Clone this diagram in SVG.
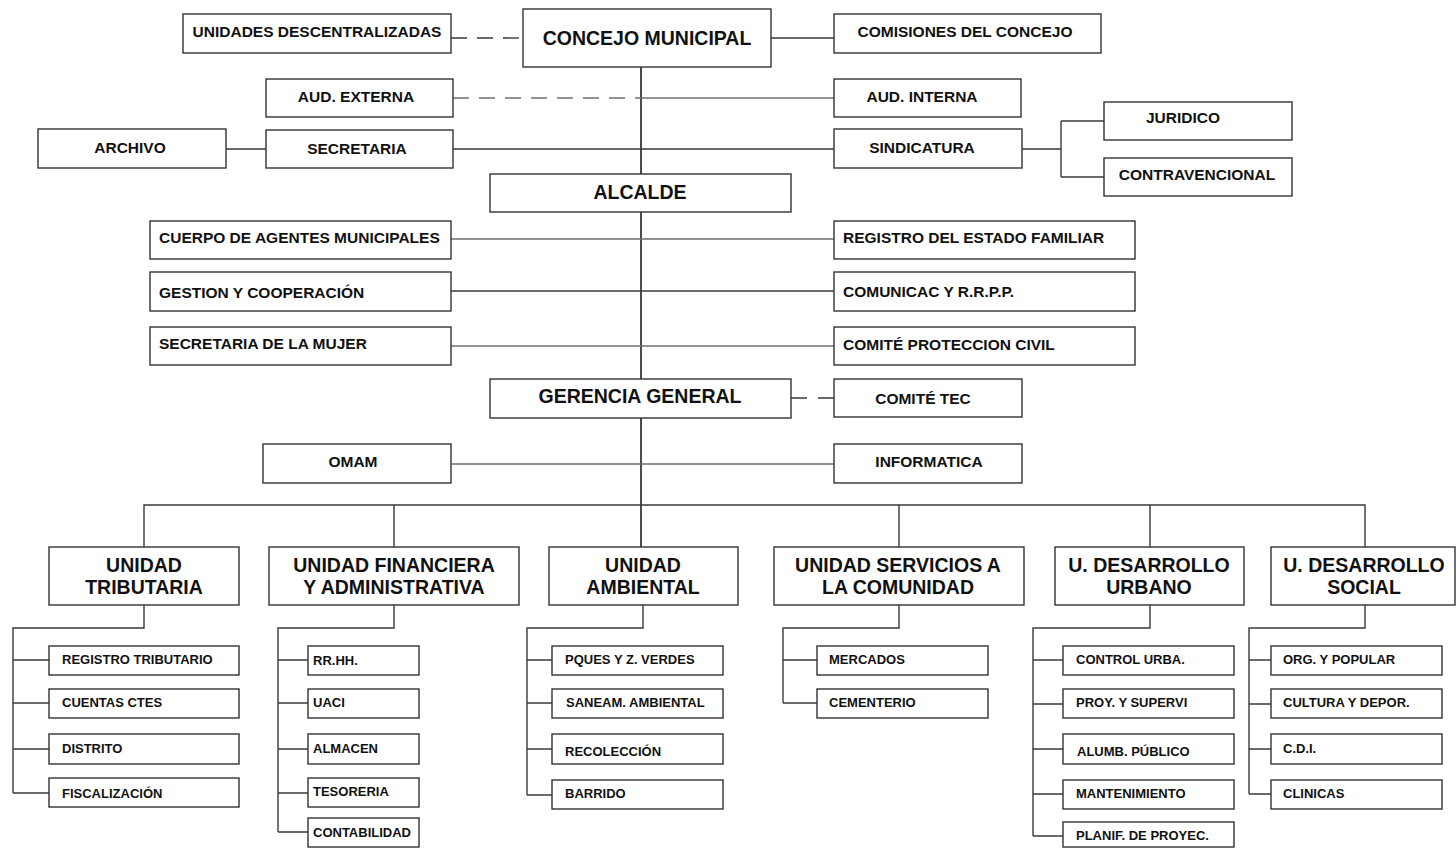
<svg xmlns="http://www.w3.org/2000/svg" width="1456" height="849" viewBox="0 0 1456 849">
  <style>
    .box { fill: #ffffff; stroke: #333333; stroke-width: 1.4; }
    .t { font-family: "Liberation Sans", Arial, sans-serif; font-weight: bold; fill: #111111; }
    .big { font-size: 19.5px; }
    .mid { font-size: 15.5px; }
    .sm { font-size: 13px; }
    .c { text-anchor: middle; }
    .ln { fill: none; stroke: #3a3a3a; stroke-width: 1.4; }
    .spine { fill: none; stroke: #111111; stroke-width: 1.5; }
    .grey { fill: none; stroke: #6e6e6e; stroke-width: 1.6; }
    .dash { stroke-dasharray: 16 10; }
  </style>
  <rect width="1456" height="849" fill="#ffffff"/>

  <!-- connectors -->
  <g id="connectors">
    <!-- main spine -->
    <path class="spine" d="M641 67 V174 M641 212 V379 M641 418 V547"/>
    <!-- council level -->
    <path class="ln dash" d="M451 38 H523"/>
    <path class="ln" d="M771 38 H834"/>
    <path class="grey dash" d="M453 98 H641"/>
    <path class="grey" d="M641 98 H834"/>
    <path class="ln" d="M226 149 H266 M453 149 H834"/>
    <path class="ln" d="M1022 149 H1061 M1061 121 V177 M1061 121 H1104 M1061 177 H1104"/>
    <!-- mayor staff -->
    <path class="grey" d="M451 239 H834"/>
    <path class="ln" d="M451 291 H834"/>
    <path class="grey" d="M451 346 H834"/>
    <!-- management staff -->
    <path class="ln" d="M791 398 H834" stroke-dasharray="16 11"/>
    <path class="grey" d="M451 464 H834"/>
    <!-- units bus -->
    <path class="ln" d="M144 547 V505 H1365 V547 M394 505 V547 M899 505 V547 M1150 505 V547"/>
    <!-- unit sub-brackets -->
    <path class="ln" d="M144 605 V628 H13 V793 M13 660 H49 M13 703 H49 M13 749 H49 M13 793 H49"/>
    <path class="ln" d="M394 605 V628 H278 V832 M278 660 H308 M278 703 H308 M278 749 H308 M278 793 H308 M278 832 H308"/>
    <path class="ln" d="M643 605 V628 H527 V795 M527 660 H552 M527 703 H552 M527 749 H552 M527 795 H552"/>
    <path class="ln" d="M899 605 V628 H783 V703 M783 660 H817 M783 703 H817"/>
    <path class="ln" d="M1150 605 V628 H1033 V836 M1033 660 H1063 M1033 704 H1063 M1033 749 H1063 M1033 794 H1063 M1033 836 H1063"/>
    <path class="ln" d="M1365 605 V628 H1249 V794 M1249 660 H1271 M1249 704 H1271 M1249 749 H1271 M1249 794 H1271"/>
  </g>

  <!-- top level -->
  <g id="unidades-descentralizadas"><rect class="box" x="183" y="14" width="268" height="39"/><text class="t mid c" x="317" y="37">UNIDADES DESCENTRALIZADAS</text></g>
  <g id="concejo-municipal"><rect class="box" x="523" y="9" width="248" height="58"/><text class="t big c" x="647" y="45">CONCEJO MUNICIPAL</text></g>
  <g id="comisiones"><rect class="box" x="834" y="14" width="267" height="39"/><text class="t mid c" x="965" y="37">COMISIONES DEL CONCEJO</text></g>
  <g id="aud-externa"><rect class="box" x="266" y="79" width="187" height="38"/><text class="t mid c" x="356" y="102">AUD. EXTERNA</text></g>
  <g id="aud-interna"><rect class="box" x="834" y="79" width="187" height="38"/><text class="t mid c" x="922" y="102">AUD. INTERNA</text></g>
  <g id="archivo"><rect class="box" x="38" y="129" width="188" height="39"/><text class="t mid c" x="130" y="153">ARCHIVO</text></g>
  <g id="secretaria"><rect class="box" x="266" y="130" width="187" height="38"/><text class="t mid c" x="357" y="154">SECRETARIA</text></g>
  <g id="sindicatura"><rect class="box" x="834" y="129" width="188" height="39"/><text class="t mid c" x="922" y="153">SINDICATURA</text></g>
  <g id="juridico"><rect class="box" x="1104" y="102" width="188" height="38"/><text class="t mid c" x="1183" y="123">JURIDICO</text></g>
  <g id="contravencional"><rect class="box" x="1104" y="158" width="188" height="38"/><text class="t mid c" x="1197" y="180">CONTRAVENCIONAL</text></g>

  <!-- mayor -->
  <g id="alcalde"><rect class="box" x="490" y="174" width="301" height="38"/><text class="t big c" x="640" y="199">ALCALDE</text></g>
  <g id="cuerpo-agentes"><rect class="box" x="150" y="221" width="301" height="38"/><text class="t mid" x="159" y="243">CUERPO DE AGENTES MUNICIPALES</text></g>
  <g id="gestion"><rect class="box" x="150" y="272" width="301" height="39"/><text class="t mid" x="159" y="298">GESTION Y COOPERACIÓN</text></g>
  <g id="secretaria-mujer"><rect class="box" x="150" y="327" width="301" height="38"/><text class="t mid" x="159" y="349">SECRETARIA DE LA MUJER</text></g>
  <g id="registro-familiar"><rect class="box" x="834" y="221" width="301" height="38"/><text class="t mid" x="843" y="243">REGISTRO DEL ESTADO FAMILIAR</text></g>
  <g id="comunicaciones"><rect class="box" x="834" y="272" width="301" height="39"/><text class="t mid" x="843" y="297">COMUNICAC Y R.R.P.P.</text></g>
  <g id="proteccion-civil"><rect class="box" x="834" y="327" width="301" height="38"/><text class="t mid" x="843" y="350">COMITÉ PROTECCION CIVIL</text></g>

  <!-- management -->
  <g id="gerencia-general"><rect class="box" x="490" y="379" width="301" height="39"/><text class="t big c" x="640" y="403">GERENCIA GENERAL</text></g>
  <g id="comite-tec"><rect class="box" x="834" y="379" width="188" height="38"/><text class="t mid c" x="923" y="404">COMITÉ TEC</text></g>
  <g id="omam"><rect class="box" x="263" y="444" width="188" height="39"/><text class="t mid c" x="353" y="467">OMAM</text></g>
  <g id="informatica"><rect class="box" x="834" y="444" width="188" height="39"/><text class="t mid c" x="929" y="467">INFORMATICA</text></g>

  <!-- units -->
  <g id="unidad-tributaria"><rect class="box" x="49" y="547" width="190" height="58"/><text class="t big c" x="144" y="572">UNIDAD</text><text class="t big c" x="144" y="594">TRIBUTARIA</text></g>
  <g id="unidad-financiera"><rect class="box" x="269" y="547" width="250" height="58"/><text class="t big c" x="394" y="572">UNIDAD FINANCIERA</text><text class="t big c" x="394" y="594">Y ADMINISTRATIVA</text></g>
  <g id="unidad-ambiental"><rect class="box" x="549" y="547" width="189" height="58"/><text class="t big c" x="643" y="572">UNIDAD</text><text class="t big c" x="643" y="594">AMBIENTAL</text></g>
  <g id="unidad-servicios"><rect class="box" x="774" y="547" width="250" height="58"/><text class="t big c" x="898" y="572">UNIDAD SERVICIOS A</text><text class="t big c" x="898" y="594">LA COMUNIDAD</text></g>
  <g id="desarrollo-urbano"><rect class="box" x="1055" y="547" width="189" height="58"/><text class="t big c" x="1149" y="572">U. DESARROLLO</text><text class="t big c" x="1149" y="594">URBANO</text></g>
  <g id="desarrollo-social"><rect class="box" x="1271" y="547" width="184" height="58"/><text class="t big c" x="1364" y="572">U. DESARROLLO</text><text class="t big c" x="1364" y="594">SOCIAL</text></g>

  <!-- tributaria sections -->
  <g id="registro-tributario"><rect class="box" x="49" y="646" width="190" height="29"/><text class="t sm" x="62" y="664">REGISTRO TRIBUTARIO</text></g>
  <g id="cuentas-ctes"><rect class="box" x="49" y="689" width="190" height="29"/><text class="t sm" x="62" y="707">CUENTAS CTES</text></g>
  <g id="distrito"><rect class="box" x="49" y="734" width="190" height="30"/><text class="t sm" x="62" y="753">DISTRITO</text></g>
  <g id="fiscalizacion"><rect class="box" x="49" y="778" width="190" height="29"/><text class="t sm" x="62" y="798">FISCALIZACIÓN</text></g>

  <!-- financiera sections -->
  <g id="rrhh"><rect class="box" x="308" y="646" width="111" height="29"/><text class="t sm" x="313" y="665">RR.HH.</text></g>
  <g id="uaci"><rect class="box" x="308" y="689" width="111" height="29"/><text class="t sm" x="313" y="707">UACI</text></g>
  <g id="almacen"><rect class="box" x="308" y="734" width="111" height="30"/><text class="t sm" x="313" y="753">ALMACEN</text></g>
  <g id="tesoreria"><rect class="box" x="308" y="778" width="111" height="29"/><text class="t sm" x="313" y="796">TESORERIA</text></g>
  <g id="contabilidad"><rect class="box" x="308" y="818" width="111" height="29"/><text class="t sm" x="313" y="837">CONTABILIDAD</text></g>

  <!-- ambiental sections -->
  <g id="parques"><rect class="box" x="552" y="646" width="171" height="29"/><text class="t sm" x="565" y="664">PQUES Y Z. VERDES</text></g>
  <g id="saneamiento"><rect class="box" x="552" y="689" width="171" height="29"/><text class="t sm" x="566" y="707">SANEAM. AMBIENTAL</text></g>
  <g id="recoleccion"><rect class="box" x="552" y="734" width="171" height="30"/><text class="t sm" x="565" y="756">RECOLECCIÓN</text></g>
  <g id="barrido"><rect class="box" x="552" y="780" width="171" height="29"/><text class="t sm" x="565" y="798">BARRIDO</text></g>

  <!-- servicios sections -->
  <g id="mercados"><rect class="box" x="817" y="646" width="171" height="29"/><text class="t sm" x="829" y="664">MERCADOS</text></g>
  <g id="cementerio"><rect class="box" x="817" y="689" width="171" height="29"/><text class="t sm" x="829" y="707">CEMENTERIO</text></g>

  <!-- urbano sections -->
  <g id="control-urbano"><rect class="box" x="1063" y="646" width="171" height="29"/><text class="t sm" x="1076" y="664">CONTROL URBA.</text></g>
  <g id="proyectos"><rect class="box" x="1063" y="689" width="171" height="29"/><text class="t sm" x="1076" y="707">PROY. Y SUPERVI</text></g>
  <g id="alumbrado"><rect class="box" x="1063" y="734" width="171" height="30"/><text class="t sm" x="1077" y="756">ALUMB. PÚBLICO</text></g>
  <g id="mantenimiento"><rect class="box" x="1063" y="780" width="171" height="29"/><text class="t sm" x="1076" y="798">MANTENIMIENTO</text></g>
  <g id="planificacion"><rect class="box" x="1063" y="822" width="171" height="25"/><text class="t sm" x="1076" y="840">PLANIF. DE PROYEC.</text></g>

  <!-- social sections -->
  <g id="organizacion"><rect class="box" x="1271" y="646" width="171" height="29"/><text class="t sm" x="1283" y="664">ORG. Y POPULAR</text></g>
  <g id="cultura"><rect class="box" x="1271" y="689" width="171" height="29"/><text class="t sm" x="1283" y="707">CULTURA Y DEPOR.</text></g>
  <g id="cdi"><rect class="box" x="1271" y="734" width="171" height="30"/><text class="t sm" x="1283" y="753">C.D.I.</text></g>
  <g id="clinicas"><rect class="box" x="1271" y="780" width="171" height="29"/><text class="t sm" x="1283" y="798">CLINICAS</text></g>
</svg>
